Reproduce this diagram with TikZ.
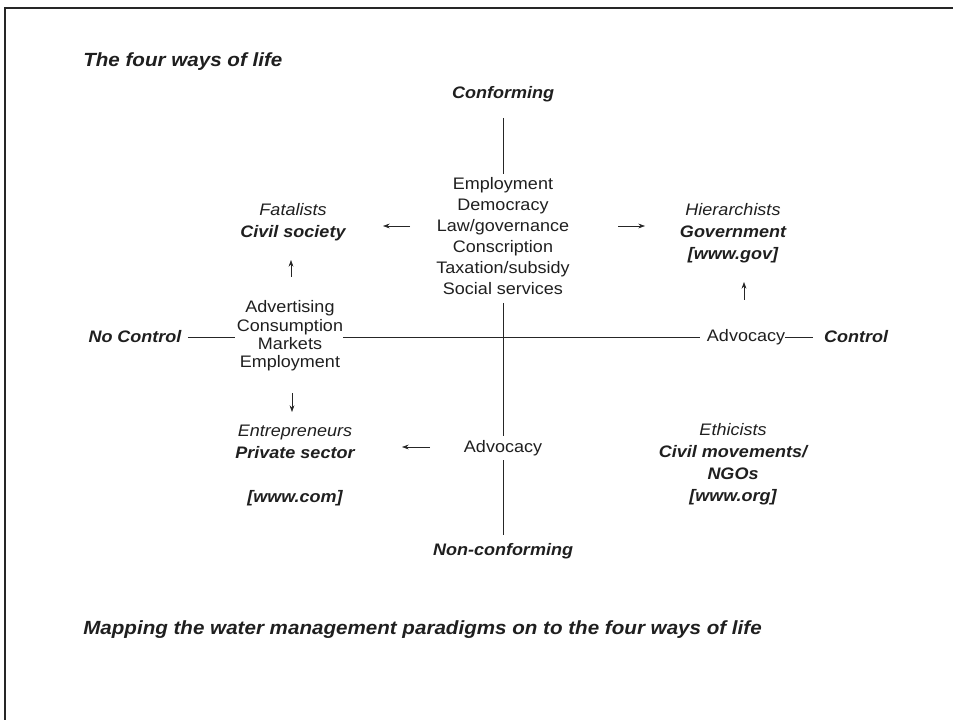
\documentclass[tikz,border=0pt]{standalone}
\usepackage{fontspec}
\setmainfont{Liberation Sans}[FakeStretch=1.08]
\usetikzlibrary{arrows.meta}
\tikzset{
  txt/.style={text=black!88, inner sep=0pt, align=center, font=\fontsize{12.5}{15.75}\selectfont},
  txtl/.style={txt, font=\fontsize{12.5}{13.7}\selectfont},
  txtq/.style={txt, font=\fontsize{12.5}{16.5}\selectfont},
  axislab/.style={txt, font=\fontsize{12.5}{15}\selectfont\bfseries\itshape},
  headlab/.style={txt, anchor=west, font=\fontsize{14.3}{16}\selectfont\bfseries\itshape},
  axisline/.style={draw=black!85, line width=0.6pt},
  arr/.style={draw=black!85, line width=0.5pt, -{Stealth[length=5pt,width=3.6pt]}},
  frameline/.style={draw=black!85, line width=1.9pt}
}
\begin{document}
\begin{tikzpicture}[x=0.75pt,y=-0.75pt]
\useasboundingbox (0,0) rectangle (953,720);
\draw[frameline] (5,720) -- (5,8) -- (953,8);

\node[headlab] (title) at (83,62) {The four ways of life};
\node[axislab] (conf) at (503,94) {Conforming};
\node[axislab] (nonconf) at (503,551) {Non-conforming};
\node[axislab] (nocontrol) at (135,337) {No Control};
\node[axislab] (control) at (856,337) {Control};

\node[txt] (mid) at (503,236) {Employment\\Democracy\\Law/governance\\Conscription\\Taxation/subsidy\\Social services};
\node[txtl] (left) at (290,336) {Advertising\\Consumption\\Markets\\Employment};
\node[txt] (advR) at (746,337) {Advocacy};
\node[txt] (advB) at (503,448) {Advocacy};

\node[txtq] (fatal) at (293,222) {{\itshape Fatalists}\\{\bfseries\itshape Civil society}};
\node[txtq] (hier) at (733,233) {{\itshape Hierarchists}\\{\bfseries\itshape Government}\\{\bfseries\itshape [www.gov]}};
\node[txtq] (entre) at (295,465) {{\itshape Entrepreneurs}\\{\bfseries\itshape Private sector}\\[16.5pt]{\bfseries\itshape [www.com]}};
\node[txtq] (ethic) at (733,464) {{\itshape Ethicists}\\{\bfseries\itshape Civil movements/}\\{\bfseries\itshape NGOs}\\{\bfseries\itshape [www.org]}};

\node[headlab] (caption) at (83,630) {Mapping the water management paradigms on to the four ways of life};

% axes
\coordinate (vtop) at (503,118);
\draw[axisline] (vtop) -- ([yshift=2pt]mid.north);
\draw[axisline, shorten <=6pt, shorten >=3pt] (mid.south) -- (advB.north);
\draw[axisline, shorten <=3pt, shorten >=6pt] (advB.south) -- (nonconf.north);
\draw[axisline, shorten <=4.5pt, shorten >=1.5pt] (nocontrol.east) -- (left.west |- nocontrol.east);
\draw[axisline, shorten <=0pt, shorten >=5pt] (left.east |- nocontrol.east) -- (advR.west);
\draw[axisline, shorten <=0pt, shorten >=8pt] (advR.east) -- (control.west);

% arrows
\coordinate (a1s) at (410,226); \coordinate (a1e) at (383,226);
\coordinate (a2s) at (618,226); \coordinate (a2e) at (645,226);
\coordinate (a3s) at (291,277); \coordinate (a3e) at (291,260);
\coordinate (a4s) at (292,393); \coordinate (a4e) at (292,412);
\coordinate (a5s) at (744,300); \coordinate (a5e) at (744,282);
\coordinate (a6s) at (430,447); \coordinate (a6e) at (402,447);
\draw[arr] (a1s) -- (a1e);
\draw[arr] (a2s) -- (a2e);
\draw[arr] (a3s) -- (a3e);
\draw[arr] (a4s) -- (a4e);
\draw[arr] (a5s) -- (a5e);
\draw[arr] (a6s) -- (a6e);
\end{tikzpicture}
\end{document}
